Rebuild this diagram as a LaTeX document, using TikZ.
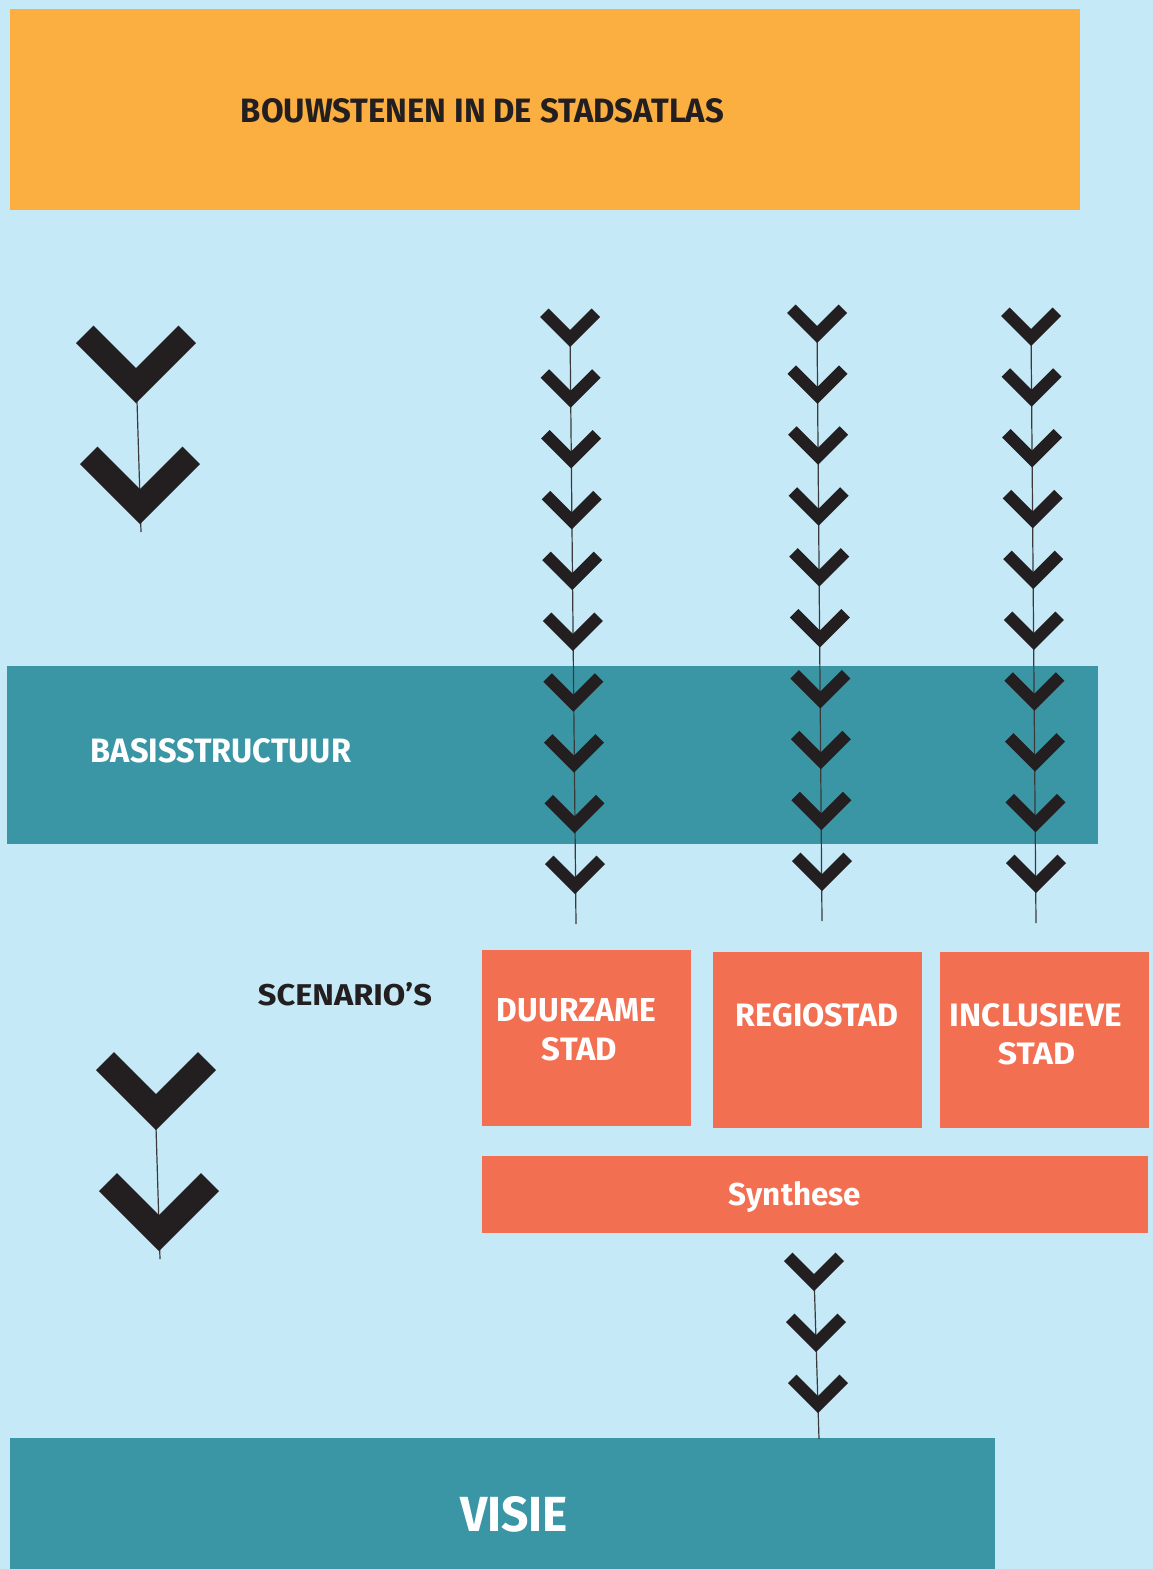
\documentclass[tikz,border=0pt]{standalone}
\usepackage{fontspec}
\usepackage{graphicx}
\setmainfont{Fira Sans}
\definecolor{bgblue}{HTML}{C6E9F8}
\definecolor{orangebox}{HTML}{FCAF41}
\definecolor{tealbox}{HTML}{3A96A5}
\definecolor{redbox}{HTML}{F26F52}
\definecolor{inkdark}{HTML}{231F20}
\definecolor{linegrey}{HTML}{3A3A3A}
\newcommand\chevron[4]{%
  \fill[chevfill] (#1,#2) -- ++(-#3,-#3) -- ++(#4,-#4) -- ++({#3-#4},{#3-#4})
     -- ++({#3-#4},{-(#3-#4)}) -- ++(#4,#4) -- cycle;}
\newcommand\lbl[6]{% name, x center, baseline y, width, height, text
  \node[lbltext] (#1) at (#2,#3) {\resizebox{#4pt}{#5pt}{\bfseries #6}};}
\tikzset{
  box/.style={draw=none, inner sep=0pt, outer sep=0pt, anchor=north west},
  chevfill/.style={fill=inkdark},
  chainline/.style={draw=linegrey, line width=1.2pt},
  lbltext/.style={anchor=base, inner sep=0pt, outer sep=0pt, text=inkdark}
}
\begin{document}
\begin{tikzpicture}[x=1pt,y=-1pt]
\useasboundingbox (0,0) rectangle (1153,1569);
\fill[bgblue] (0,0) rectangle (1153,1569);
% boxes
\node[box, fill=orangebox, minimum width=1070pt, minimum height=201pt] (bouw) at (10,9) {};
\node[box, fill=tealbox, minimum width=1091pt, minimum height=178pt] (basis) at (7,666) {};
\node[box, fill=redbox, minimum width=209pt, minimum height=176pt] (duur) at (482,950) {};
\node[box, fill=redbox, minimum width=209pt, minimum height=176pt] (regio) at (713,952) {};
\node[box, fill=redbox, minimum width=209pt, minimum height=176pt] (incl) at (940,952) {};
\node[box, fill=redbox, minimum width=666pt, minimum height=77pt] (synth) at (482,1156) {};
\node[box, fill=tealbox, minimum width=985pt, minimum height=132pt] (visie) at (10,1438) {};
% labels
\lbl{tbouw}{482.5}{122}{483}{24}{BOUWSTENEN IN DE STADSATLAS}
\node[lbltext, text=white] (tbasis) at (221,762) {\resizebox{260pt}{24pt}{\bfseries BASISSTRUCTUUR}};
\lbl{tscen}{345}{1005}{174}{23}{SCENARIO’S}
\node[lbltext, text=white] (tduur1) at (576.5,1021) {\resizebox{159pt}{23pt}{\bfseries DUURZAME}};
\node[lbltext, text=white] (tduur2) at (579.5,1060) {\resizebox{75pt}{23pt}{\bfseries STAD}};
\node[lbltext, text=white] (tregio) at (817,1026) {\resizebox{162pt}{23pt}{\bfseries REGIOSTAD}};
\node[lbltext, text=white] (tincl1) at (1036,1026) {\resizebox{172pt}{23pt}{\bfseries INCLUSIEVE}};
\node[lbltext, text=white] (tincl2) at (1036.5,1064) {\resizebox{77pt}{22pt}{\bfseries STAD}};
\node[lbltext, text=white] (tsynth) at (795,1205) {\resizebox{132pt}{24pt}{\bfseries Synthese}};
\node[lbltext, text=white] (tvisie) at (514,1531) {\resizebox{108pt}{35pt}{\bfseries VISIE}};
% chain coordinates
\coordinate (la1) at (136,368); \coordinate (la2) at (141,532);
\coordinate (lb1) at (155,1094); \coordinate (lb2) at (160,1259);
\coordinate (c1a) at (570,330); \coordinate (c1b) at (576,924);
\coordinate (c2a) at (817,326); \coordinate (c2b) at (822,921);
\coordinate (c3a) at (1031,329); \coordinate (c3b) at (1036,923);
\coordinate (s1) at (814,1274); \coordinate (s2) at (819,1439);
\draw[chainline] (la1) -- (la2);
\draw[chainline] (lb1) -- (lb2);
\draw[chainline] (c1a) -- (c1b);
\draw[chainline] (c2a) -- (c2b);
\draw[chainline] (c3a) -- (c3b);
\draw[chainline] (s1) -- (s2);
% big chevrons
\chevron{136}{403}{60}{17.5}
\chevron{140}{524}{60}{17.5}
\chevron{156}{1130}{60}{18}
\chevron{159}{1251}{60}{18}
% column chevrons
\foreach \i in {0,...,9}{
  \pgfmathsetmacro\ya{347+60.8*\i}\pgfmathsetmacro\xa{570+5*\i/9}
  \chevron{\xa}{\ya}{30}{8.5}
  \pgfmathsetmacro\yb{343+60.9*\i}\pgfmathsetmacro\xb{817+5*\i/9}
  \chevron{\xb}{\yb}{30}{8.5}
  \pgfmathsetmacro\yc{346+60.8*\i}\pgfmathsetmacro\xc{1031+5*\i/9}
  \chevron{\xc}{\yc}{30}{8.5}
}
% synthese chevrons
\chevron{814}{1291}{30}{8.5}
\chevron{816}{1352}{30}{8.5}
\chevron{818}{1413}{30}{8.5}
\end{tikzpicture}
\end{document}
